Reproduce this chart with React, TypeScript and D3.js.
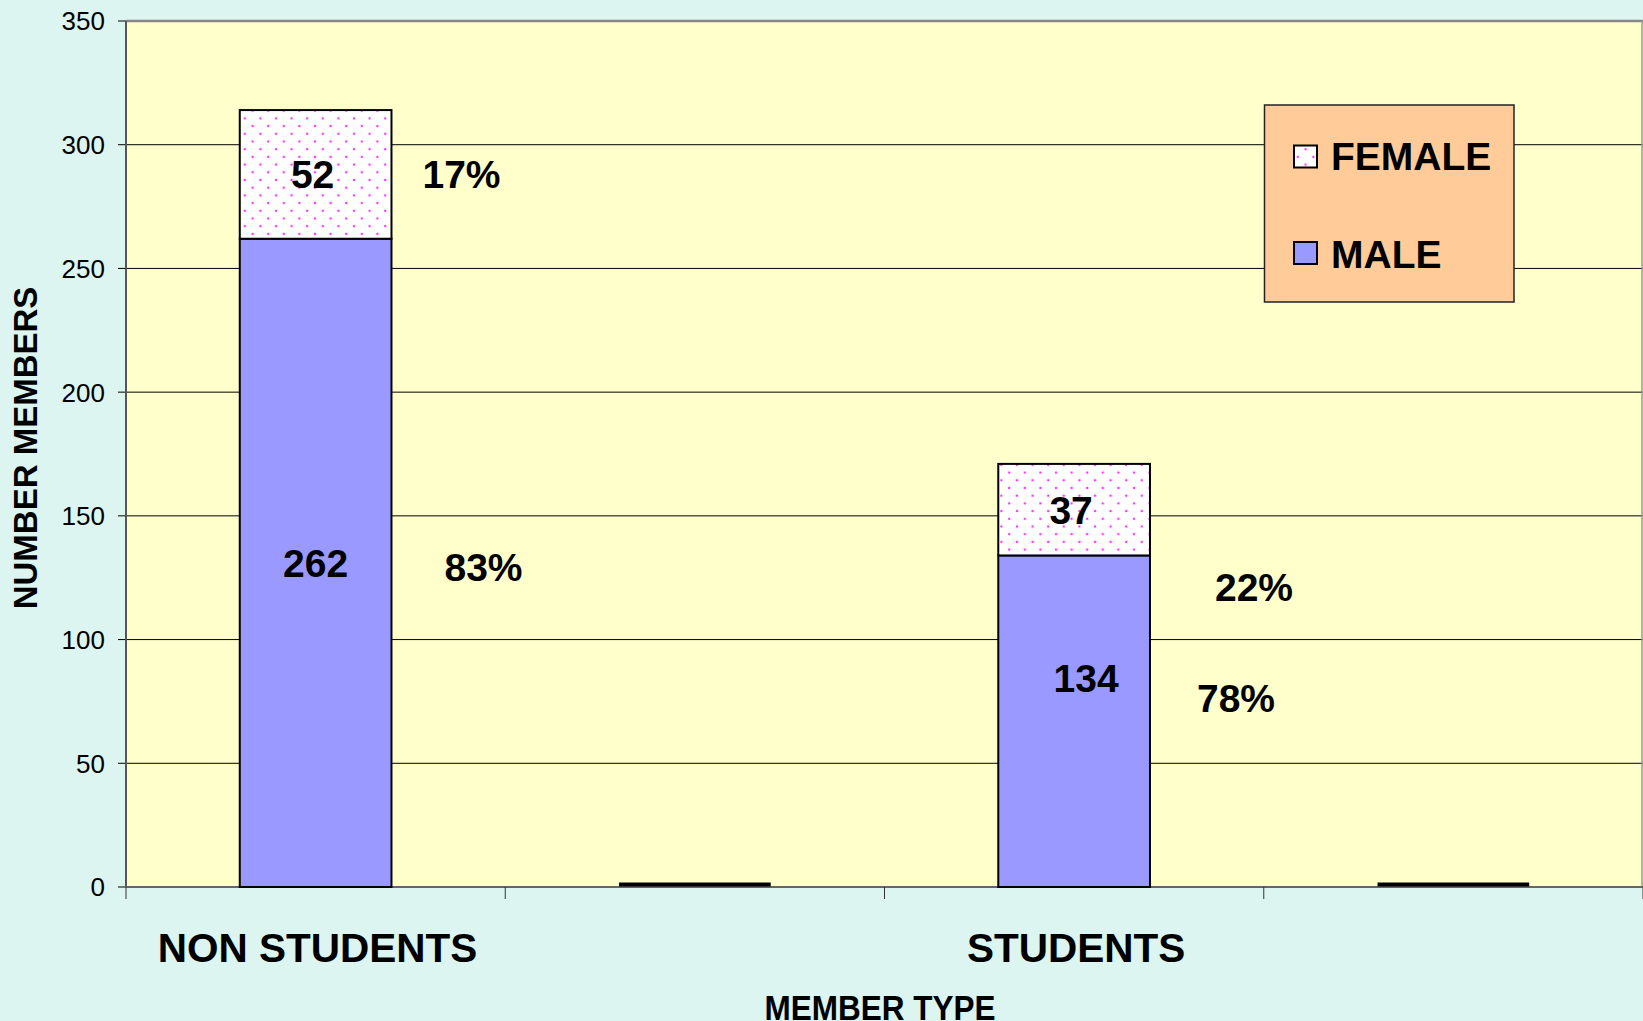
import * as d3 from "d3";

const categories = ["NON STUDENTS", "", "STUDENTS", ""];
const maleValues = [262, 0, 134, 0];
const femaleValues = [52, 0, 37, 0];
const femalePct = ["17%", "", "22%", ""];
const malePct = ["83%", "", "78%", ""];
const yTicks = [0, 50, 100, 150, 200, 250, 300, 350];
const seriesKeys = ["male", "female"];
const seriesNames = { male: "MALE", female: "FEMALE" };

// layout tweaks for hand-placed labels (pixels, relative to computed spot)
const valueNudge = { "2-male": [12, -43], "2-female": [-3, 0], "0-female": [-3, 0] };
const pctNudge = {
  "0-female": [70, 0],
  "0-male": [92, 4],
  "2-female": [104, 77],
  "2-male": [86, -23],
};

const W = 1643;
const H = 1021;
const plot = { left: 126, top: 21, right: 1643, bottom: 887 };
const FONT = "'Liberation Sans', Arial, Helvetica, sans-serif";
const colors = { male: "#9999FF", bg: "#DCF5F1", plotBg: "#FFFFCC", legend: "#FFCC99" };

export default function App() {
  const table = categories.map((c, i) => ({
    idx: i,
    cat: c,
    male: maleValues[i],
    female: femaleValues[i],
  }));
  const stacked = d3.stack<any>().keys(seriesKeys)(table);

  const x = d3
    .scaleBand<number>()
    .domain(d3.range(categories.length))
    .range([plot.left, plot.right])
    .paddingInner(0.6)
    .paddingOuter(0.3);
  const y = d3.scaleLinear().domain([0, 350]).range([plot.bottom, plot.top]);
  const step = x.step();
  const bandEdges = d3.range(categories.length + 1).map((i) => plot.left + i * step);

  const fill = (k: string) => (k === "male" ? colors.male : "url(#dots)");

  return (
    <svg
      width={W}
      height={H}
      style={{ position: "absolute", left: 0, top: 0, display: "block" }}
      fontFamily={FONT}
    >
      <defs>
        <pattern id="dots" width={15.6} height={15.4} patternUnits="userSpaceOnUse">
          <rect width={15.6} height={15.4} fill="#FFFFFF" />
          <circle cx={3} cy={3} r={1.2} fill="#FF33FF" />
          <circle cx={10.8} cy={10.7} r={1.2} fill="#FF33FF" />
        </pattern>
      </defs>
      <rect width={W} height={H} fill={colors.bg} />
      <rect
        x={plot.left}
        y={plot.top}
        width={plot.right - plot.left}
        height={plot.bottom - plot.top}
        fill={colors.plotBg}
      />

      {/* gridlines + y ticks */}
      {yTicks.map((t) => (
        <g key={t}>
          {t > 0 && t < 350 && (
            <line x1={plot.left} x2={plot.right} y1={y(t)} y2={y(t)} stroke="#000" strokeWidth={1} />
          )}
          <line x1={plot.left - 8} x2={plot.left} y1={y(t)} y2={y(t)} stroke="#000" strokeWidth={1} />
          <text x={105} y={y(t)} dy="0.36em" textAnchor="end" fontSize={26} fill="#000">
            {t}
          </text>
        </g>
      ))}

      {/* plot frame */}
      <line x1={plot.left} x2={plot.right} y1={plot.top} y2={plot.top} stroke="#888" strokeWidth={2.5} />
      <line x1={plot.right - 1} x2={plot.right - 1} y1={plot.top} y2={plot.bottom} stroke="#999" strokeWidth={1.5} />

      {/* axes */}
      <line x1={plot.left} x2={plot.left} y1={plot.top} y2={plot.bottom} stroke="#555" strokeWidth={2} />
      <line x1={plot.left} x2={plot.right} y1={plot.bottom} y2={plot.bottom} stroke="#666" strokeWidth={2} />
      {bandEdges.map((ex, i) => (
        <line key={i} x1={ex} x2={ex} y1={plot.bottom} y2={plot.bottom + 12} stroke="#333" strokeWidth={1} />
      ))}

      {/* bars */}
      {stacked.map((s) =>
        s.map((d: any, i: number) =>
          d[1] - d[0] > 0 ? (
            <rect
              key={s.key + i}
              x={x(i)}
              y={y(d[1])}
              width={x.bandwidth()}
              height={y(d[0]) - y(d[1])}
              fill={fill(s.key)}
              stroke="#000"
              strokeWidth={2}
            />
          ) : null
        )
      )}
      {/* zero-height bars show as a flat black bar on the axis */}
      {table.map((d, i) =>
        d.male + d.female === 0 ? (
          <line
            key={"z" + i}
            x1={x(i)}
            x2={(x(i) as number) + x.bandwidth()}
            y1={y(0) - 2.5}
            y2={y(0) - 2.5}
            stroke="#000"
            strokeWidth={4}
          />
        ) : null
      )}

      {/* value labels */}
      {stacked.map((s) =>
        s.map((d: any, i: number) => {
          const v = d[1] - d[0];
          if (!v) return null;
          const n = (valueNudge as any)[`${i}-${s.key}`] || [0, 0];
          const cx = (x(i) as number) + x.bandwidth() / 2 + n[0];
          const cy = (y(d[0]) + y(d[1])) / 2 + n[1];
          return (
            <text key={"v" + s.key + i} x={cx} y={cy} dy="0.36em" textAnchor="middle" fontSize={39} fontWeight="bold">
              {v}
            </text>
          );
        })
      )}

      {/* percent labels */}
      {stacked.map((s) =>
        s.map((d: any, i: number) => {
          const txt = s.key === "male" ? malePct[i] : femalePct[i];
          if (!txt) return null;
          const n = (pctNudge as any)[`${i}-${s.key}`] || [0, 0];
          const cx = (x(i) as number) + x.bandwidth() + n[0];
          const cy = (y(d[0]) + y(d[1])) / 2 + n[1];
          return (
            <text key={"p" + s.key + i} x={cx} y={cy} dy="0.36em" textAnchor="middle" fontSize={39} fontWeight="bold">
              {txt}
            </text>
          );
        })
      )}

      {/* category labels */}
      {categories.map((c, i) =>
        c ? (
          <text
            key={"c" + i}
            x={(x(i) as number) + x.bandwidth() / 2 + 2}
            y={961.5}
            textAnchor="middle"
            fontSize={40.5}
            fontWeight="bold"
          >
            {c}
          </text>
        ) : null
      )}

      {/* axis titles */}
      <text transform="translate(880,1020) scale(1,1.14)" textAnchor="middle" fontSize={31.5} fontWeight="bold">
        MEMBER TYPE
      </text>
      <text
        transform="translate(36.5,448) rotate(-90)"
        textAnchor="middle"
        fontSize={33}
        fontWeight="bold"
      >
        NUMBER MEMBERS
      </text>

      {/* legend */}
      <g>
        <rect x={1264.5} y={105} width={249.5} height={197} fill={colors.legend} stroke="#222" strokeWidth={1.5} />
        {["female", "male"].map((k, i) => (
          <g key={k}>
            <rect
              x={1294}
              y={145.5 + i * 96.5}
              width={23}
              height={22}
              fill={fill(k)}
              stroke="#000"
              strokeWidth={2}
            />
            <text x={1331} y={170 + i * 98} fontSize={39} fontWeight="bold">
              {(seriesNames as any)[k]}
            </text>
          </g>
        ))}
      </g>
    </svg>
  );
}
